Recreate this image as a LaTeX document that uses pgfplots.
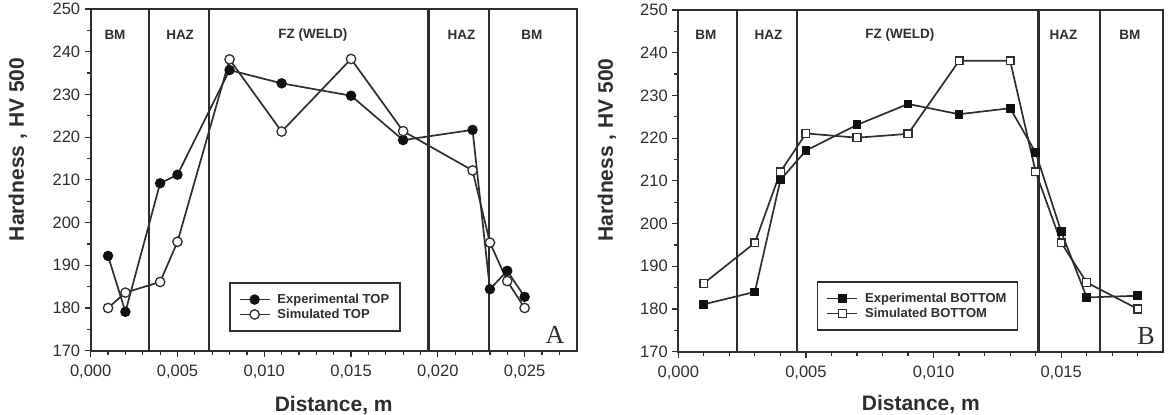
\documentclass[border=0pt]{standalone}
\usepackage{fontspec}
\setmainfont{Liberation Sans}
\newfontfamily\seriffont{Liberation Serif}
\usepackage{pgfplots}
\pgfplotsset{compat=1.18}
\definecolor{ink}{HTML}{2E2E2E}
\definecolor{dot}{HTML}{111111}

\tikzset{zone/.style={font=\bfseries\fontsize{13.5}{15}\selectfont, text=ink, anchor=center}}

\pgfplotsset{
  hard/.style={
    scale only axis, width=486pt, height=341.7pt, anchor=south west,
    ymin=170, ymax=250, ytick={170,180,190,200,210,220,230,240,250},
    minor ytick={175,185,195,205,215,225,235,245},
    axis line style={ink, line width=1.9pt},
    every tick/.style={ink, line width=1.2pt},
    major tick length=6pt, minor tick length=4pt,
    tick align=outside, xtick pos=bottom, ytick pos=left,
    scaled x ticks=false,
    /pgf/number format/assume math mode=true,
    x tick label style={/pgf/number format/fixed, /pgf/number format/fixed zerofill,
      /pgf/number format/precision=3, /pgf/number format/use comma, yshift=-5pt},
    y tick label style={xshift=-1pt},
    tick label style={font=\fontsize{16.5}{19}\selectfont, text=ink},
    every axis y label/.style={rotate=90, anchor=center, font=\bfseries\fontsize{21}{24}\selectfont, text=ink},
    every axis x label/.style={anchor=base, font=\bfseries\fontsize{21}{24}\selectfont, text=ink},
    ylabel={Hardness , HV 500},
    xlabel={Distance, m},
    legend cell align=left,
    legend style={anchor=south west, draw=ink, line width=1.5pt, fill=white,
      font=\bfseries\fontsize{13}{15}\selectfont, text=ink, inner xsep=9pt, inner ysep=9pt,
      row sep=0pt, column sep=5pt},
    legend image code/.code={\draw[mark repeat=2,mark phase=2,#1] plot coordinates {(0pt,0pt)(15pt,0pt)(30pt,0pt)};},
    clip=false,
  },
  expc/.style={ink, line width=1.7pt, mark=*, mark size=4.7pt, mark options={fill=dot, draw=dot, line width=1pt}},
  simc/.style={ink, line width=1.7pt, mark=*, mark size=4.7pt, mark options={fill=white, draw=ink, line width=1.3pt}},
  exps/.style={ink, line width=1.7pt, mark=square*, mark size=3.9pt, mark options={fill=dot, draw=dot, line width=1pt}},
  sims/.style={ink, line width=1.7pt, mark=square*, mark size=3.9pt, mark options={fill=white, draw=ink, line width=1.3pt}},
}

\pgfplotstableread{
x      exp    sim
0.001  192.2  180.0
0.002  179.1  183.6
0.004  209.2  186.1
0.005  211.2  195.5
0.008  235.7  238.2
0.011  232.6  221.3
0.015  229.7  238.3
0.018  219.3  221.4
0.022  221.7  212.2
0.023  184.4  195.3
0.024  188.7  186.3
0.025  182.6  180.0
}\topdata

\pgfplotstableread{
x      exp    sim
0.001  181.1  186.0
0.003  184.0  195.5
0.004  210.2  212.1
0.005  217.1  221.1
0.007  223.1  220.1
0.009  228.0  221.0
0.011  225.6  238.1
0.013  227.0  238.1
0.014  216.6  212.1
0.015  198.1  195.5
0.016  182.7  186.2
0.018  183.1  180.0
}\botdata

\begin{document}
\begin{tikzpicture}
\path[use as bounding box] (0pt,0pt) rectangle (1171pt,415pt);

% ---------- Panel A ----------
\begin{axis}[hard, at={(90.7pt,64.3pt)},
  xmin=0, xmax=0.028,
  xtick={0,0.005,0.010,0.015,0.020,0.025},
  minor xtick={0.001,0.002,0.003,0.004,0.006,0.007,0.008,0.009,0.011,0.012,0.013,0.014,0.016,0.017,0.018,0.019,0.021,0.022,0.023,0.024,0.026,0.027},
  ylabel style={at={(axis description cs:-0.150,0.589)}},
  xlabel style={at={(axis description cs:0.5,-0.1765)}},
  legend style={at={(axis description cs:0.2846,0.0556)}},
]
\draw[ink, line width=1.6pt] (axis cs:0.00337,170) -- (axis cs:0.00337,250);
\draw[ink, line width=2.4pt] (axis cs:0.00683,170) -- (axis cs:0.00683,250);
\draw[ink, line width=2.4pt] (axis cs:0.01946,170) -- (axis cs:0.01946,250);
\draw[ink, line width=1.6pt] (axis cs:0.02295,170) -- (axis cs:0.02295,250);
\addplot[expc] table[x=x, y=exp] {\topdata};
\addplot[simc] table[x=x, y=sim] {\topdata};
\legend{Experimental TOP, Simulated TOP}
\node[zone] at (rel axis cs:0.050,0.924) {BM};
\node[zone] at (rel axis cs:0.184,0.924) {HAZ};
\node[zone] at (rel axis cs:0.457,0.924) {FZ (WELD)};
\node[zone] at (rel axis cs:0.763,0.924) {HAZ};
\node[zone] at (rel axis cs:0.908,0.924) {BM};
\node[font=\seriffont\fontsize{26}{28}\selectfont, text=ink, anchor=base] at (rel axis cs:0.9553,0.0196) {A};
\end{axis}

% ---------- Panel B ----------
\begin{axis}[hard, at={(678.3pt,63.3pt)}, width=485pt,
  xmin=0, xmax=0.019,
  xtick={0,0.005,0.010,0.015},
  minor xtick={0.001,0.002,0.003,0.004,0.006,0.007,0.008,0.009,0.011,0.012,0.013,0.014,0.016,0.017,0.018},
  ylabel style={at={(axis description cs:-0.147,0.590)}},
  xlabel style={at={(axis description cs:0.5,-0.1735)}},
  legend style={at={(axis description cs:0.2854,0.0615)}},
]
\draw[ink, line width=1.6pt] (axis cs:0.00229,170) -- (axis cs:0.00229,250);
\draw[ink, line width=2.4pt] (axis cs:0.00465,170) -- (axis cs:0.00465,250);
\draw[ink, line width=2.4pt] (axis cs:0.01411,170) -- (axis cs:0.01411,250);
\draw[ink, line width=1.6pt] (axis cs:0.01652,170) -- (axis cs:0.01652,250);
\addplot[exps] table[x=x, y=exp] {\botdata};
\addplot[sims] table[x=x, y=sim] {\botdata};
\legend{Experimental BOTTOM, Simulated BOTTOM}
\node[zone] at (rel axis cs:0.057,0.927) {BM};
\node[zone] at (rel axis cs:0.186,0.927) {HAZ};
\node[zone] at (rel axis cs:0.457,0.927) {FZ (WELD)};
\node[zone] at (rel axis cs:0.794,0.927) {HAZ};
\node[zone] at (rel axis cs:0.931,0.927) {BM};
\node[font=\seriffont\fontsize{26}{28}\selectfont, text=ink, anchor=base] at (rel axis cs:0.9643,0.0225) {B};
\end{axis}
\end{tikzpicture}
\end{document}
